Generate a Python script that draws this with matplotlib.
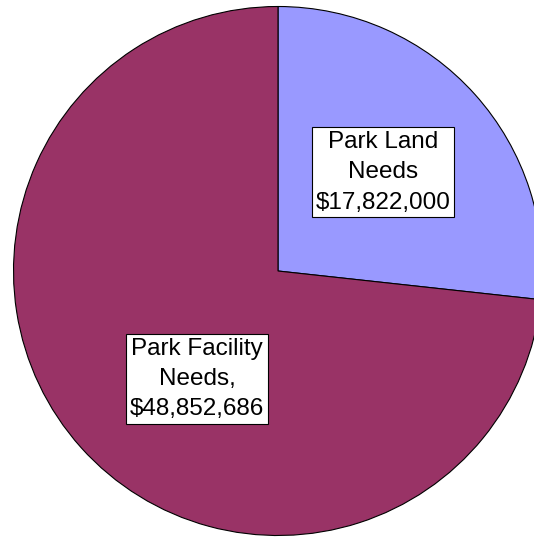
import matplotlib
matplotlib.use("Agg")
import matplotlib.pyplot as plt

categories = ["Park Land\nNeeds\n$17,822,000", "Park Facility\nNeeds,\n$48,852,686"]
values = [17822000, 48852686]
colors = ["#9999FF", "#993366"]

W, H = 534, 538
fig = plt.figure(figsize=(W / 100, H / 100), dpi=100)
ax = fig.add_axes([0, 0, 1, 1])

cx, cy, r = 278, H - 271, 264.5
wedges, _ = ax.pie(values, colors=colors, startangle=90, counterclock=False,
                   center=(cx, cy), radius=r, frame=True,
                   wedgeprops=dict(edgecolor="black", linewidth=0.8))
ax.set_xlim(0, W)
ax.set_ylim(0, H)
ax.set_aspect("equal")
ax.axis("off")

label_pos = [(383, H - 172), (197, H - 379)]
for text, (x, y) in zip(categories, label_pos):
    ax.text(x, y, text, ha="center", va="center", fontsize=17.5,
            family="Liberation Sans", linespacing=1.5,
            bbox=dict(boxstyle="square,pad=0.16", facecolor="white",
                      edgecolor="black", linewidth=0.8))

fig.savefig("out.png", dpi=100)
